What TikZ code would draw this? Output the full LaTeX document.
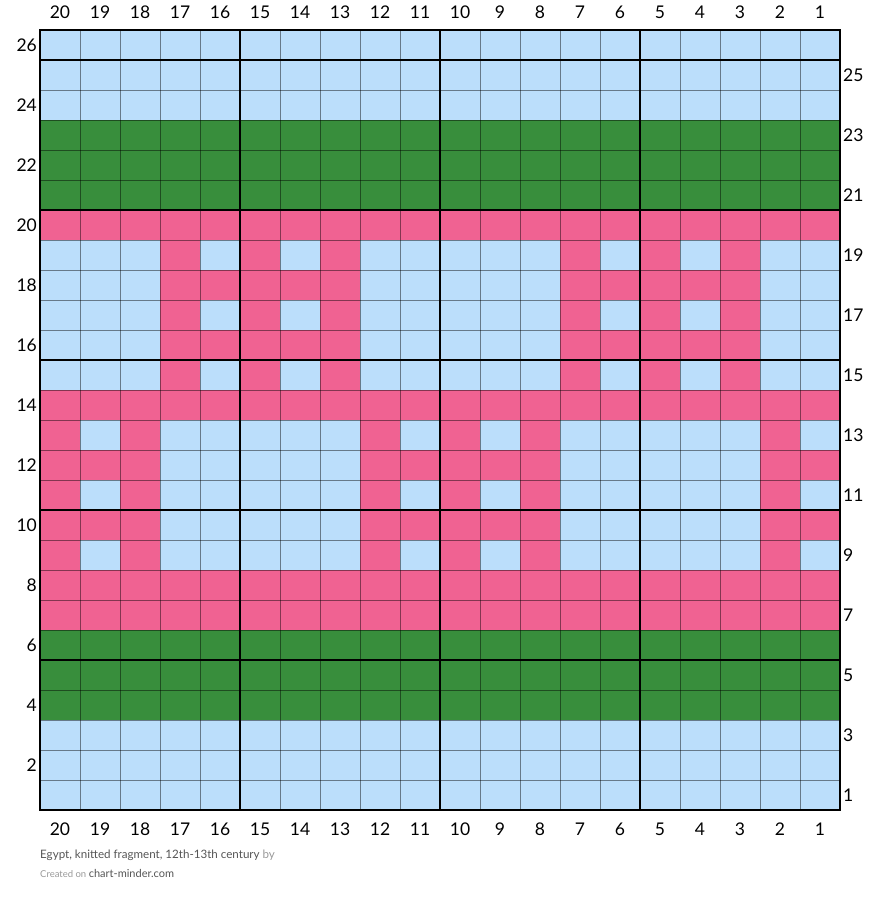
\documentclass[tikz,border=0pt]{standalone}
\usepackage{fontspec}
\setmainfont{Lato}
\definecolor{bg}{HTML}{BBDEFB}
\definecolor{gr}{HTML}{388E3C}
\definecolor{pk}{HTML}{F06292}
\definecolor{capdark}{HTML}{555555}
\definecolor{caplight}{HTML}{999999}
\begin{document}
\begin{tikzpicture}[x=1pt,y=-1pt,
  numlab/.style={font=\fontsize{17.5}{20}\selectfont, inner sep=0pt},
  thin/.style={draw=black, draw opacity=0.45, line width=0.9pt},
  thick/.style={draw=black, line width=2pt}]
\useasboundingbox (0,0) rectangle (880,903);
% base
\fill[bg] (40,30) rectangle (840,810);
% full rows: r -> top = 810-30r
\foreach \r in {4,5,6,21,22,23}{\fill[gr] (40,{810-30*\r}) rectangle (840,{840-30*\r});}
\foreach \r in {7,8,14,20}{\fill[pk] (40,{810-30*\r}) rectangle (840,{840-30*\r});}
% rows 15-19 motif
\foreach \r in {15,17,19}{\foreach \c in {17,15,13,7,5,3}{\fill[pk] ({840-40*\c},{810-30*\r}) rectangle +(40,30);}}
\foreach \r in {16,18}{\foreach \c in {17,16,15,14,13,7,6,5,4,3}{\fill[pk] ({840-40*\c},{810-30*\r}) rectangle +(40,30);}}
% rows 9-13 motif
\foreach \r in {9,11,13}{\foreach \c in {20,18,12,10,8,2}{\fill[pk] ({840-40*\c},{810-30*\r}) rectangle +(40,30);}}
\foreach \r in {10,12}{\foreach \c in {20,19,18,12,11,10,9,8,2,1}{\fill[pk] ({840-40*\c},{810-30*\r}) rectangle +(40,30);}}
% thin grid
\foreach \i in {1,...,19}{\draw[thin] ({40+40*\i},30) -- ({40+40*\i},810);}
\foreach \j in {1,...,25}{\draw[thin] (40,{30+30*\j}) -- (840,{30+30*\j});}
% thick grid
\foreach \xx in {240,440,640}{\draw[thick] (\xx,30) -- (\xx,810);}
\foreach \yy in {60,210,360,510,660}{\draw[thick] (40,\yy) -- (840,\yy);}
\draw[line width=2.6pt] (40,30) rectangle (840,810);
% column labels
\foreach \c in {1,...,20}{
  \node[numlab] (top\c) at ({860-40*\c},12) {\c};
  \node[numlab] (bot\c) at ({860-40*\c},829) {\c};
}
% row labels
\foreach \r in {2,4,...,26}{\node[numlab, anchor=east] (left\r) at (37,{825-30*\r}) {\r};}
\foreach \r in {1,3,...,25}{\node[numlab, anchor=west] (right\r) at (843,{825-30*\r}) {\r};}
% caption
\node[anchor=west, inner sep=0pt, font=\fontsize{11.6}{13}\selectfont] (cap1) at (40,855)
  {\textcolor{capdark}{Egypt, knitted fragment, 12th-13th century} \textcolor{caplight}{by}};
\node[anchor=west, inner sep=0pt] (cap2) at (40,873)
  {\textcolor{caplight}{\fontsize{9.5}{11}\selectfont Created on} \textcolor{capdark}{\fontsize{11}{12}\selectfont chart-minder.com}};
\end{tikzpicture}
\end{document}
